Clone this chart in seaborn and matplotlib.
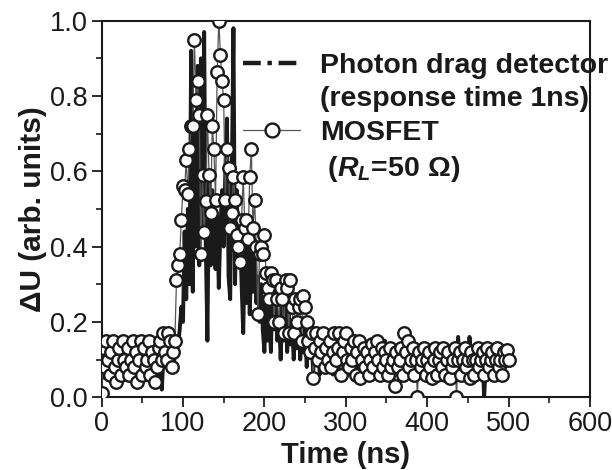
import numpy as np
import pandas as pd
import matplotlib
matplotlib.use("Agg")
import matplotlib.pyplot as plt
from matplotlib.lines import Line2D
from matplotlib.ticker import MultipleLocator
import seaborn as sns

# ---------------- data ----------------
# Photon drag detector, time step 2 ns, 0..488 ns
pd_time = list(range(0, 490, 2))
pd_values = [
    0.08, 0.12, 0.05, 0.10, 0.13, 0.07, 0.11, 0.09, 0.13, 0.06,
    0.10, 0.12, 0.07, 0.11, 0.13, 0.08, 0.10, 0.12, 0.06, 0.11,
    0.09, 0.13, 0.07, 0.10, 0.12, 0.05, 0.11, 0.08, 0.12, 0.06,
    0.10, 0.07, 0.12, 0.05, 0.09, 0.04, 0.10, 0.02, 0.11, 0.08,
    0.12, 0.07, 0.10, 0.13, 0.08, 0.11, 0.12, 0.14, 0.18, 0.24,
    0.20, 0.44, 0.26, 0.50, 0.30, 0.92, 0.28, 0.70, 0.40, 0.88,
    0.35, 0.90, 0.45, 0.97, 0.40, 0.15, 0.60, 0.35, 0.55, 0.40,
    0.34, 0.48, 0.29, 0.45, 0.55, 0.40, 0.60, 0.74, 0.32, 0.26,
    0.60, 0.98, 0.30, 0.55, 0.35, 0.45, 0.30, 0.17, 0.40, 0.25,
    0.45, 0.22, 0.38, 0.28, 0.42, 0.25, 0.32, 0.20, 0.30, 0.18,
    0.12, 0.28, 0.15, 0.25, 0.12, 0.30, 0.18, 0.26, 0.15, 0.22,
    0.10, 0.24, 0.15, 0.28, 0.12, 0.22, 0.14, 0.20, 0.10, 0.18,
    0.13, 0.20, 0.10, 0.16, 0.12, 0.19, 0.08, 0.15, 0.11, 0.14,
    0.07, 0.13, 0.10, 0.15, 0.06, 0.12, 0.09, 0.14, 0.07, 0.11,
    0.09, 0.13, 0.06, 0.11, 0.08, 0.12, 0.05, 0.10, 0.13, 0.07,
    0.10, 0.12, 0.06, 0.11, 0.08, 0.13, 0.05, 0.10, 0.12, 0.07,
    0.11, 0.08, 0.13, 0.06, 0.10, 0.12, 0.07, 0.11, 0.09, 0.13,
    0.06, 0.10, 0.12, 0.08, 0.15, 0.05, 0.11, 0.09, 0.13, 0.07,
    0.10, 0.12, 0.06, 0.11, 0.08, 0.13, 0.05, 0.10, 0.12, 0.07,
    0.11, 0.08, 0.12, 0.06, 0.10, 0.13, 0.07, 0.11, 0.09, 0.12,
    0.06, 0.10, 0.13, 0.08, 0.11, 0.07, 0.12, 0.09, 0.13, 0.06,
    0.10, 0.12, 0.08, 0.11, 0.07, 0.13, 0.09, 0.12, 0.06, 0.16,
    0.08, 0.12, 0.07, 0.10, 0.13, 0.06, 0.16, 0.09, 0.12, 0.07,
    0.11, 0.08, 0.12, 0.05, 0.10, 0.00, 0.09, 0.12, 0.07, 0.11,
    0.08, 0.12, 0.06, 0.10, 0.09,
]

# MOSFET, time step 2 ns, 0..500 ns
mos_time = list(range(0, 502, 2))
mos_values = [
    0.01, 0.13, 0.08, 0.15, 0.10, 0.06, 0.12, 0.15, 0.08, 0.04,
    0.10, 0.13, 0.06, 0.15, 0.10, 0.08, 0.13, 0.06, 0.10, 0.15,
    0.08, 0.12, 0.04, 0.10, 0.15, 0.06, 0.13, 0.08, 0.10, 0.15,
    0.06, 0.12, 0.10, 0.04, 0.08, 0.13, 0.15, 0.10, 0.17, 0.12,
    0.10, 0.17, 0.15, 0.08, 0.12, 0.15, 0.31, 0.35, 0.38, 0.47,
    0.56, 0.55, 0.63, 0.54, 0.66, 0.72, 0.72, 0.95, 0.79, 0.84,
    0.75, 0.38, 0.59, 0.44, 0.52, 0.75, 0.59, 0.49, 0.72, 0.66,
    0.525, 0.865, 1.00, 0.91, 0.84, 0.79, 0.525, 0.66, 0.61, 0.45,
    0.49, 0.585, 0.525, 0.43, 0.40, 0.36, 0.47, 0.585, 0.45, 0.47,
    0.42, 0.585, 0.66, 0.45, 0.525, 0.40, 0.22, 0.38, 0.40, 0.38,
    0.43, 0.33, 0.29, 0.26, 0.33, 0.31, 0.20, 0.31, 0.26, 0.20,
    0.29, 0.26, 0.17, 0.31, 0.29, 0.17, 0.31, 0.24, 0.17, 0.26,
    0.20, 0.24, 0.26, 0.15, 0.27, 0.24, 0.20, 0.15, 0.12, 0.17,
    0.05, 0.13, 0.17, 0.10, 0.15, 0.12, 0.17, 0.08, 0.13, 0.10,
    0.15, 0.08, 0.12, 0.17, 0.10, 0.13, 0.17, 0.06, 0.12, 0.15,
    0.17, 0.10, 0.08, 0.13, 0.10, 0.15, 0.06, 0.12, 0.15, 0.05,
    0.10, 0.13, 0.08, 0.12, 0.06, 0.10, 0.14, 0.08, 0.12, 0.15,
    0.10, 0.06, 0.13, 0.08, 0.12, 0.10, 0.06, 0.13, 0.08, 0.10,
    0.03, 0.12, 0.08, 0.10, 0.13, 0.06, 0.17, 0.12, 0.15, 0.08,
    0.10, 0.13, 0.06, 0.10, 0.00, 0.12, 0.08, 0.10, 0.13, 0.06,
    0.10, 0.12, 0.08, 0.05, 0.10, 0.13, 0.06, 0.10, 0.12, 0.08,
    0.13, 0.06, 0.10, 0.12, 0.05, 0.08, 0.10, 0.13, 0.00, 0.10,
    0.12, 0.06, 0.10, 0.13, 0.08, 0.10, 0.05, 0.12, 0.10, 0.06,
    0.10, 0.13, 0.08, 0.10, 0.12, 0.06, 0.10, 0.13, 0.08, 0.10,
    0.12, 0.06, 0.10, 0.13, 0.08, 0.10, 0.06, 0.12, 0.10, 0.125,
    0.10,
]

x_ticks = [0, 100, 200, 300, 400, 500, 600]
y_ticks = [0.0, 0.2, 0.4, 0.6, 0.8, 1.0]
legend_labels = ["Photon drag detector", "(response time 1ns)", "MOSFET",
                 r" ($\mathit{R_L}$=50 Ω)"]

# ---------------- style ----------------
sns.set_theme(style="ticks")
plt.rcParams["font.family"] = ["Liberation Sans", "DejaVu Sans"]
plt.rcParams["mathtext.fontset"] = "custom"
plt.rcParams["mathtext.it"] = "Liberation Sans:bold:italic"
plt.rcParams["mathtext.rm"] = "Liberation Sans:bold"
plt.rcParams["mathtext.bf"] = "Liberation Sans:bold"

fig = plt.figure(figsize=(6.12, 4.70), dpi=100)
ax = fig.add_axes([0.166, 0.155, 0.798, 0.801])

df_pd = pd.DataFrame({"t": pd_time, "v": pd_values})
df_mos = pd.DataFrame({"t": mos_time, "v": mos_values})

sns.lineplot(data=df_pd, x="t", y="v", ax=ax, color="#1a1a1a", lw=2.8,
             estimator=None, zorder=2)
sns.lineplot(data=df_mos, x="t", y="v", ax=ax, color="#555555", lw=0.9,
             estimator=None, marker="o", markersize=9,
             markerfacecolor="white", markeredgecolor="#1a1a1a",
             markeredgewidth=1.7, zorder=3)

ax.set_xlim(0, 600)
ax.set_ylim(0, 1.0)
ax.set_xticks(x_ticks)
ax.set_yticks(y_ticks)
ax.set_xticklabels([str(v) for v in x_ticks])
ax.set_yticklabels([f"{v:.1f}" for v in y_ticks])
ax.xaxis.set_minor_locator(MultipleLocator(50))
ax.yaxis.set_minor_locator(MultipleLocator(0.1))
ax.tick_params(which="major", direction="out", length=7, width=1.3,
               labelsize=19.5, colors="#1a1a1a", pad=3)
ax.tick_params(which="minor", direction="out", length=4, width=1.2,
               colors="#1a1a1a")
ax.tick_params(top=False, right=False, which="both")
for s in ax.spines.values():
    s.set_linewidth(1.5)
    s.set_color("#1a1a1a")

ax.set_xlabel("Time (ns)", fontsize=21, fontweight="bold", labelpad=3,
              color="#1a1a1a")
ax.set_ylabel("ΔU (arb. units)", fontsize=21.5, fontweight="bold", labelpad=2,
              color="#1a1a1a")

h1 = Line2D([], [], color="#1a1a1a", lw=3.2, linestyle=(0, (4, 1.5, 1, 1.5)))
h_empty = Line2D([], [], color="none", lw=0)
h2 = Line2D([], [], color="#555555", lw=0.9, marker="o", markersize=10,
            markerfacecolor="white", markeredgecolor="#1a1a1a",
            markeredgewidth=1.7)
leg = ax.legend(handles=[h1, h_empty, h2, h_empty], labels=legend_labels,
                loc="upper left", bbox_to_anchor=(0.29, 0.915), frameon=False,
                prop={"weight": "bold", "size": 20.5}, handlelength=2.0,
                handletextpad=0.7, labelspacing=0.27, borderaxespad=0,
                borderpad=0)
for t in leg.get_texts():
    t.set_color("#1a1a1a")

fig.savefig("out.png", dpi=100)
